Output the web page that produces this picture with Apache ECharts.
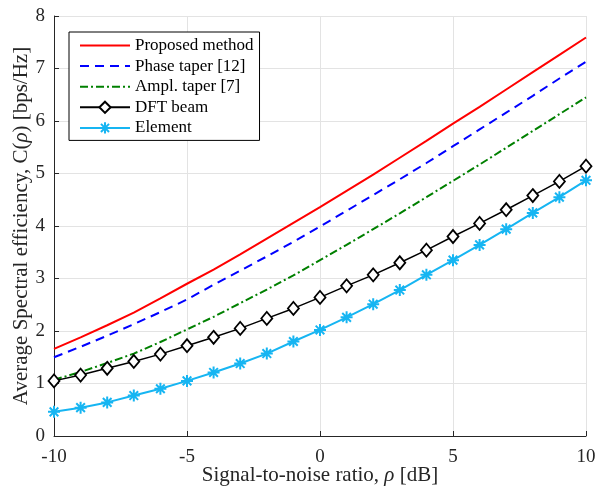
<!DOCTYPE html>
<html><head><meta charset="utf-8">
<script src="https://cdn.jsdelivr.net/npm/echarts@6/dist/echarts.min.js"></script>
<style>html,body{margin:0;padding:0;background:#fff}#c{width:602px;height:494px}</style>
</head><body><div id="c"></div>
<script>
const snr = [-10,-9,-8,-7,-6,-5,-4,-3,-2,-1,0,1,2,3,4,5,6,7,8,9,10];
const proposed = [1.66,1.88,2.11,2.35,2.62,2.90,3.17,3.46,3.76,4.06,4.36,4.67,4.98,5.30,5.62,5.95,6.27,6.60,6.93,7.26,7.59];
const phaseTaper = [1.50,1.70,1.91,2.13,2.36,2.60,2.88,3.15,3.42,3.70,3.99,4.29,4.59,4.89,5.20,5.52,5.84,6.16,6.48,6.81,7.13];
const amplTaper = [1.07,1.22,1.39,1.57,1.79,2.03,2.27,2.53,2.79,3.06,3.35,3.64,3.94,4.24,4.55,4.86,5.17,5.49,5.81,6.13,6.45];
const dftBeam = [1.05,1.16,1.29,1.42,1.56,1.72,1.88,2.05,2.24,2.43,2.64,2.86,3.07,3.30,3.54,3.80,4.05,4.31,4.58,4.85,5.14];
const element = [0.46,0.54,0.64,0.77,0.90,1.05,1.21,1.38,1.57,1.80,2.02,2.26,2.51,2.78,3.07,3.35,3.64,3.94,4.25,4.55,4.87];
const names = ['Proposed method','Phase taper [12]','Ampl. taper [7]','DFT beam','Element'];
const xTicks = [-10,-5,0,5,10];

const FONT = 'Liberation Serif';
const pair = a => snr.map((x,i)=>[x,a[i]]);
const star = 'path://M0,-5L0,5M-5,0L5,0M-3.6,-3.6L3.6,3.6M-3.6,3.6L3.6,-3.6';
const noMark = {color:'transparent',borderColor:'transparent',borderWidth:0};
const chart = echarts.init(document.getElementById('c'));
chart.setOption({
  animation:false,
  textStyle:{fontFamily:FONT},
  grid:{left:54,right:16,top:16,bottom:58,containLabel:false,outerBoundsMode:'none'},
  legend:{
    left:69, top:32, orient:'vertical', itemWidth:50, itemHeight:14, itemGap:3.6,
    padding:[5,6,4,10], borderColor:'#000', borderWidth:1, backgroundColor:'#fff',
    textStyle:{fontFamily:FONT,fontSize:17,color:'#000'},
    data:names
  },
  xAxis:{
    type:'value', min:-10, max:10, interval:5,
    axisLine:{onZero:false,lineStyle:{color:'#262626',width:1}},
    axisTick:{inside:true,length:5,lineStyle:{color:'#262626'}},
    axisLabel:{fontFamily:FONT,fontSize:19,color:'#262626',margin:12,
      formatter:v=>xTicks.includes(v)?String(v):''},
    splitLine:{show:true,lineStyle:{color:'#e3e3e3',width:1}},
    name:'Signal-to-noise ratio, {i|ρ} [dB]', nameLocation:'middle', nameGap:29, nameMoveOverlap:false,
    nameTextStyle:{fontFamily:FONT,fontSize:21,color:'#262626',
      rich:{i:{fontFamily:FONT,fontStyle:'italic',fontSize:21,color:'#262626'}}}
  },
  yAxis:{
    type:'value', min:0, max:8, interval:1,
    axisLine:{show:true,onZero:false,lineStyle:{color:'#262626',width:1}},
    axisTick:{show:true,inside:true,length:5,lineStyle:{color:'#262626'}},
    axisLabel:{fontFamily:FONT,fontSize:19,color:'#262626',margin:9},
    splitLine:{show:true,lineStyle:{color:'#e3e3e3',width:1}},
    name:'Average Spectral efficiency, C({i|ρ}) [bps/Hz]', nameLocation:'middle', nameGap:22, nameMoveOverlap:false,
    nameTextStyle:{fontFamily:FONT,fontSize:21,color:'#262626',
      rich:{i:{fontFamily:FONT,fontStyle:'italic',fontSize:21,color:'#262626'}}}
  },
  series:[
    {name:names[0],type:'line',data:pair(proposed),symbol:'none',
     lineStyle:{color:'#ff0000',width:2},itemStyle:noMark},
    {name:names[1],type:'line',data:pair(phaseTaper),symbol:'none',
     lineStyle:{color:'#0000ff',width:2,type:[9,6]},itemStyle:noMark},
    {name:names[2],type:'line',data:pair(amplTaper),symbol:'none',
     lineStyle:{color:'#008000',width:2,type:[8,3,2,3]},itemStyle:noMark},
    {name:names[3],type:'line',data:pair(dftBeam),symbol:'diamond',symbolSize:[11,13],
     lineStyle:{color:'#000',width:1.5},itemStyle:{color:'#fff',borderColor:'#000',borderWidth:1.8}},
    {name:names[4],type:'line',data:pair(element),symbol:star,symbolSize:12,
     lineStyle:{color:'#16b5f2',width:2},itemStyle:{color:'#16b5f2',borderColor:'#16b5f2',borderWidth:2}}
  ]
});
</script></body></html>
